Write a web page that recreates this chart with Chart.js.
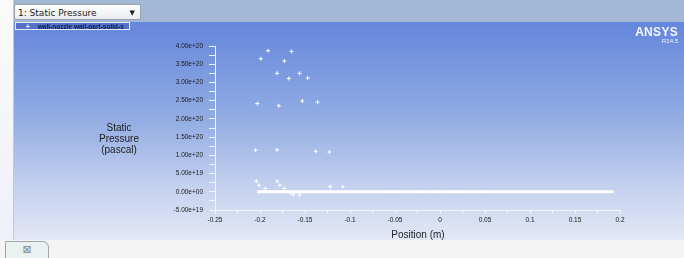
<!DOCTYPE html>
<html>
<head>
<meta charset="utf-8">
<script src="https://cdn.jsdelivr.net/npm/chart.js@4"></script>
<style>
  html, body { margin: 0; padding: 0; }
  body { width: 684px; height: 258px; position: relative; overflow: hidden; background: #f2f2f2; font-family: "Liberation Sans", Arial, sans-serif; }
  #leftStrip { position: absolute; left: 0; top: 0; width: 13px; height: 240px; background: linear-gradient(#fafafa, #eef1f8); border-right: 1px solid #c4c8cf; }
  #topBar { position: absolute; left: 14px; top: 0; width: 670px; height: 22px; background: #a2b8d4; }
  #plotBg { position: absolute; left: 14px; top: 22px; width: 670px; height: 218px; background: linear-gradient(#6486dc 0%, #93ade3 45%, #c3d0ee 75%, #e3e8f6 100%); }
  #chartBox { position: absolute; left: 14px; top: 22px; width: 670px; height: 218px; }
  #dropdown { position: absolute; left: 14px; top: 4px; width: 127px; height: 16px; background: linear-gradient(#ffffff, #e9ecef); border: 1px solid #9aa3ad; border-radius: 2px; font: 9px Tahoma, "DejaVu Sans", sans-serif; color: #1a1a1a; line-height: 16px; box-sizing: border-box; padding-left: 3px; }
  #dropdown span { position: absolute; right: 5px; top: 0; font-size: 7px; }
  #legend { position: absolute; left: 15px; top: 22px; width: 115px; height: 8px; background: #5473c6; border: 1px solid #e6ecf7; box-sizing: border-box; font: bold 6.5px "Liberation Sans", Arial, sans-serif; color: #0d1a4a; line-height: 7px; white-space: nowrap; overflow: hidden; }
  #legend .mk { color: #fff; margin-left: 10px; margin-right: 8px; }
  #logo { position: absolute; right: 6px; top: 25px; text-align: right; color: #f4f7ff; }
  #logo .n { font: bold 12px "Liberation Sans", Arial, sans-serif; letter-spacing: 0.3px; }
  #logo .v { font: 6px "Liberation Sans", Arial, sans-serif; margin-top: -1px; }
  #yTitle { position: absolute; left: 84px; top: 122px; width: 70px; text-align: center; font: 10px "Liberation Sans", Arial, sans-serif; color: #1c1c1c; line-height: 11px; }
  #xTitle { position: absolute; left: 368px; top: 229px; width: 100px; text-align: center; font: 10px "Liberation Sans", Arial, sans-serif; color: #1c1c1c; }
  #bottomStrip { position: absolute; left: 0; top: 240px; width: 684px; height: 18px; background: #f4f4f4; }
  #tab { position: absolute; left: 5px; top: 241px; width: 44px; height: 20px; background: #eaf1f1; border: 1px solid #9ea7aa; border-top-right-radius: 6px; box-sizing: border-box; text-align: center; font: 11px "DejaVu Sans", sans-serif; color: #7f8a8f; line-height: 16px; }
</style>
</head>
<body>
<div id="leftStrip"></div>
<div id="topBar"></div>
<div id="plotBg"></div>
<div id="chartBox"><canvas id="chart"></canvas></div>
<div id="dropdown">1: Static Pressure<span>&#9660;</span></div>
<div id="legend"><span class="mk">+</span>wall-nozzle wall-part-solid-s</div>
<div id="logo"><div class="n">ANSYS</div><div class="v">R14.5</div></div>
<div id="yTitle">Static<br>Pressure<br>(pascal)</div>
<div id="xTitle">Position (m)</div>
<div id="bottomStrip"></div>
<div id="tab">&#8864;</div>
<script>
// scattered wall points (position in m, static pressure in Pa)
const posX = [-0.191, -0.165, -0.199, -0.173, -0.181, -0.156, -0.168, -0.147,
              -0.203, -0.179, -0.153, -0.136,
              -0.205, -0.181, -0.138, -0.123,
              -0.204, -0.201, -0.194, -0.181, -0.178, -0.173, -0.122, -0.108,
              -0.166, -0.163, -0.156, -0.060, -0.045, -0.020, -0.005, 0.010, 0.025, 0.050];
const pressure = [3.87e20, 3.85e20, 3.65e20, 3.59e20, 3.25e20, 3.25e20, 3.11e20, 3.12e20,
                  2.42e20, 2.36e20, 2.49e20, 2.46e20,
                  1.14e20, 1.15e20, 1.11e20, 1.09e20,
                  2.9e19, 1.8e19, 0.9e19, 2.9e19, 1.8e19, 0.9e19, 1.4e19, 1.4e19,
                  -0.3e19, -0.8e19, -0.9e19, 0, 0, 0, 0, 0, 0, 0];
// dense band of near-zero wall values
const bandX = [-0.203, 0.193];
const bandY = [0, 0];

const xTickLabels = ['-0.25', '-0.2', '-0.15', '-0.1', '-0.05', '0', '0.05', '0.1', '0.15', '0.2'];
const yTickLabels = ['-5.00e+19', '0.00e+00', '5.00e+19', '1.00e+20', '1.50e+20', '2.00e+20',
                     '2.50e+20', '3.00e+20', '3.50e+20', '4.00e+20'];

const tickFont = { family: "'Liberation Sans', Arial, sans-serif", size: 6.5 };

new Chart(document.getElementById('chart'), {
    type: 'scatter',
    data: {
        datasets: [{
            data: bandX.map((x, i) => ({ x: x, y: bandY[i] })),
            showLine: true,
            borderColor: '#ffffff',
            borderWidth: 3,
            pointRadius: 0
        }, {
            data: posX.map((x, i) => ({ x: x, y: pressure[i] })),
            pointStyle: 'cross',
            pointRadius: 2,
            borderColor: '#ffffff',
            borderWidth: 1
        }]
    },
    options: {
        responsive: true,
        maintainAspectRatio: false,
        animation: false,
        layout: { padding: { left: 0, top: 24, right: 64, bottom: 0 } },
        plugins: { legend: { display: false }, tooltip: { enabled: false } },
        scales: {
            x: {
                type: 'linear',
                min: -0.25,
                max: 0.2,
                afterFit: (scale) => { scale.height = 30; },
                border: { color: '#f2f5fb', width: 1 },
                grid: { drawOnChartArea: false, color: '#f2f5fb', tickLength: 4 },
                ticks: {
                    stepSize: 0.025,
                    autoSkip: false,
                    maxRotation: 0,
                    padding: 2,
                    color: '#1a1a1a',
                    font: tickFont,
                    callback: (v, i) => i % 2 === 0 ? xTickLabels[i / 2] : ''
                }
            },
            y: {
                type: 'linear',
                min: -5e19,
                max: 4e20,
                afterFit: (scale) => { scale.width = 201; },
                border: { color: '#f2f5fb', width: 1 },
                grid: { drawOnChartArea: false, color: '#f2f5fb', tickLength: 6 },
                ticks: {
                    stepSize: 2.5e19,
                    autoSkip: false,
                    padding: 6,
                    color: '#1a1a1a',
                    font: tickFont,
                    callback: (v, i) => i % 2 === 0 ? yTickLabels[i / 2] : ''
                }
            }
        }
    }
});
</script>
</body>
</html>
